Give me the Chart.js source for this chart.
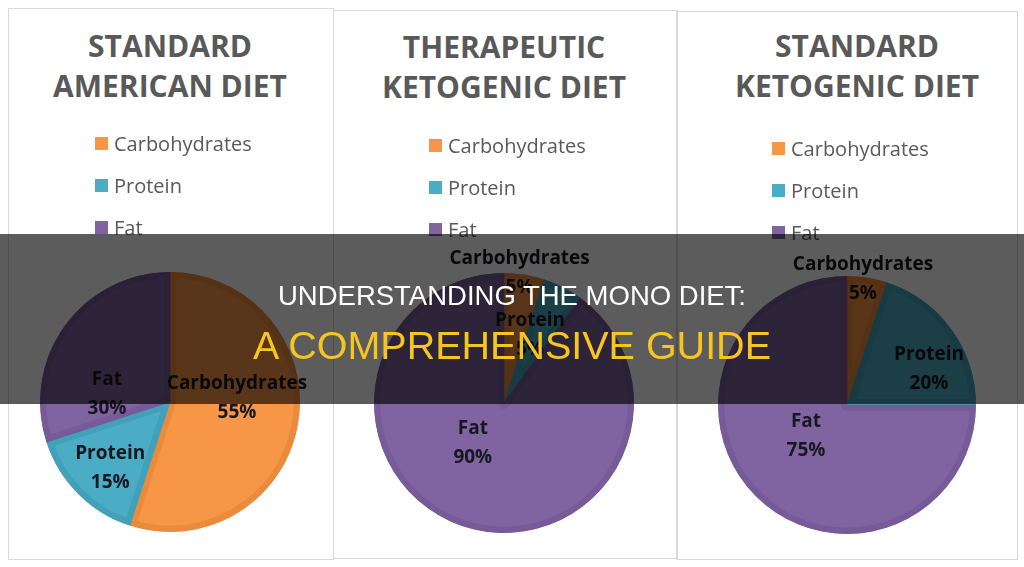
<!DOCTYPE html>
<html>
<head>
<meta charset="utf-8">
<script src="https://cdn.jsdelivr.net/npm/chart.js@4.4.1/dist/chart.umd.min.js"></script>
<style>
  html, body { margin: 0; padding: 0; background: #fff; }
  body { width: 1024px; height: 567px; position: relative; overflow: hidden; font-family: 'Open Sans', sans-serif; }
  .panel { position: absolute; border: 1px solid #d9d9d9; box-sizing: border-box; }
  .title { position: absolute; width: 340px; text-align: center; font-weight: 700; font-size: 30px; line-height: 40px; color: #595959; }
  .legend { position: absolute; margin: 0; padding: 0; list-style: none; font-size: 20px; color: #595959; }
  .legend li { height: 42px; display: flex; align-items: center; white-space: nowrap; }
  .legend .sw { width: 13px; height: 13px; margin-right: 6px; flex: none; }
  .pie { position: absolute; }
  .banner { position: absolute; left: 0; top: 234px; width: 1024px; height: 170px; background: rgba(0,0,0,0.64); }
  .banner div { position: absolute; left: 0; width: 1024px; text-align: center; font-family: 'Liberation Sans', Arial, sans-serif; white-space: nowrap; }
  .banner .l1 { top: 47.7px; font-size: 27.5px; line-height: 27.5px; color: #fff; }
  .banner .l2 { top: 91.6px; font-size: 39.5px; line-height: 39.5px; color: #f7c520; }
</style>
</head>
<body>

<div class="panel" style="left:8px;top:8px;width:326px;height:552px"></div>
<div class="panel" style="left:333px;top:10px;width:345px;height:549px"></div>
<div class="panel" style="left:676px;top:11px;width:342px;height:549px"></div>

<div id="charts"></div>

<div class="banner">
  <div class="l1">UNDERSTANDING THE MONO DIET:</div>
  <div class="l2">A COMPREHENSIVE GUIDE</div>
</div>

<script>
/* ─── data ─── */
const categories = ['Carbohydrates', 'Protein', 'Fat'];
const americanValues = [55, 15, 30];
const therapeuticValues = [5, 5, 90];
const standardKetoValues = [5, 20, 75];
const americanTitle = ['STANDARD', 'AMERICAN DIET'];
const therapeuticTitle = ['THERAPEUTIC', 'KETOGENIC DIET'];
const standardKetoTitle = ['STANDARD', 'KETOGENIC DIET'];

const FILLS = ['#F79646', '#4BACC6', '#8064A2'];
const EDGES = ['#EA8A3C', '#43A0B9', '#775B99'];

/* ─── layout of each panel (page pixels) ─── */
const panels = [
  { title: americanTitle, values: americanValues, titleX: 170, titleY: 26,
    legendX: 95, legendY: 122, cx: 170, cy: 402, r: 130,
    spots: [[0.515, -0.03], [-0.46, 0.51], [-0.485, -0.06]] },
  { title: therapeuticTitle, values: therapeuticValues, titleX: 504, titleY: 27,
    legendX: 429, legendY: 124, cx: 504, cy: 403, r: 130,
    spots: [[0.12, -1.0], [0.2, -0.52], [-0.24, 0.31]] },
  { title: standardKetoTitle, values: standardKetoValues, titleX: 857, titleY: 26,
    legendX: 772, legendY: 127, cx: 847, cy: 405, r: 129,
    spots: [[0.124, -0.977], [0.636, -0.28], [-0.318, 0.24]] },
];

const BORDER = 6;
const TOP = 236;
const SIDE = 50;

/* draws "Name / NN%" on each slice */
function sliceLabels(spots) {
  return {
    id: 'sliceLabels',
    afterDatasetsDraw(chart) {
      const { ctx } = chart;
      const meta = chart.getDatasetMeta(0);
      ctx.save();
      ctx.font = "700 19px 'Open Sans', sans-serif";
      ctx.fillStyle = '#17171f';
      ctx.textAlign = 'center';
      ctx.textBaseline = 'middle';
      meta.data.forEach((arc, i) => {
        const [fx, fy] = spots[i];
        const x = arc.x + fx * arc.outerRadius;
        const y = arc.y + fy * arc.outerRadius;
        ctx.fillText(chart.data.labels[i], x, y - 14.5);
        ctx.fillText(chart.data.datasets[0].data[i] + '%', x, y + 14.5);
      });
      ctx.restore();
    },
  };
}

const host = document.getElementById('charts');

panels.forEach((p) => {
  const title = document.createElement('div');
  title.className = 'title';
  title.style.left = (p.titleX - 170) + 'px';
  title.style.top = p.titleY + 'px';
  title.innerHTML = p.title.join('<br>');
  host.appendChild(title);

  // inner border does not shrink the radius
  const R = p.r;
  const box = document.createElement('div');
  box.className = 'pie';
  const w = 2 * R + 2 * SIDE;
  const h = p.cy + R + 10 - TOP;
  box.style.left = (p.cx - R - SIDE) + 'px';
  box.style.top = TOP + 'px';
  box.style.width = w + 'px';
  box.style.height = h + 'px';
  const canvas = document.createElement('canvas');
  box.appendChild(canvas);
  host.appendChild(box);

  const chart = new Chart(canvas, {
    type: 'pie',
    data: {
      labels: categories,
      datasets: [{
        data: p.values,
        backgroundColor: FILLS,
        borderColor: EDGES,
        borderWidth: BORDER,
        borderAlign: 'inner',
      }],
    },
    options: {
      responsive: true,
      maintainAspectRatio: false,
      devicePixelRatio: 1,
      animation: false,
      events: [],
      layout: { padding: { left: SIDE, right: SIDE, top: p.cy - R - TOP, bottom: 10 } },
      plugins: {
        legend: { display: false },
        tooltip: { enabled: false },
      },
    },
    plugins: [sliceLabels(p.spots)],
  });

  const ul = document.createElement('ul');
  ul.className = 'legend';
  ul.style.left = p.legendX + 'px';
  ul.style.top = p.legendY + 'px';
  chart.options.plugins.legend.labels.generateLabels(chart).forEach((item) => {
    const li = document.createElement('li');
    const sw = document.createElement('span');
    sw.className = 'sw';
    sw.style.background = item.fillStyle;
    li.appendChild(sw);
    li.appendChild(document.createTextNode(item.text));
    ul.appendChild(li);
  });
  host.appendChild(ul);
});
</script>
</body>
</html>
